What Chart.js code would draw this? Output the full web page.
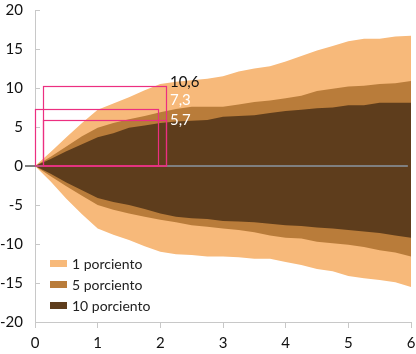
<!DOCTYPE html>
<html>
<head>
<meta charset="utf-8">
<script src="https://cdn.jsdelivr.net/npm/chart.js@4.4.0/dist/chart.umd.min.js"></script>
<style>
  html, body { margin: 0; padding: 0; background: #fff; }
  #wrap { position: relative; width: 416px; height: 354px; }
  #legend { position: absolute; left: 50px; top: 253px; font-family: Lato, sans-serif; font-size: 14px; color: #222; }
  .item { display: flex; align-items: center; height: 21px; }
  .box { width: 17px; height: 7px; margin-right: 5px; }
</style>
</head>
<body>
<div id="wrap">
  <canvas id="chart" width="416" height="354"></canvas>
  <div id="legend"></div>
</div>
<script>
  const years = [0, 0.25, 0.5, 0.75, 1, 1.25, 1.5, 1.75, 2, 2.25, 2.5, 2.75, 3,
                 3.25, 3.5, 3.75, 4, 4.25, 4.5, 4.75, 5, 5.25, 5.5, 5.75, 6];

  const upper1 = [0, 1.8, 3.7, 5.5, 7.2, 8.0, 8.8, 9.7, 10.5, 10.8, 11.0, 11.2, 11.5,
                  12.1, 12.5, 12.8, 13.4, 14.1, 14.8, 15.4, 16.0, 16.3, 16.3, 16.6, 16.7];
  const lower1 = [0, -2.0, -4.2, -6.2, -8.0, -8.8, -9.5, -10.3, -11.0, -11.3, -11.4, -11.6, -11.6,
                  -11.7, -11.9, -11.9, -12.3, -12.7, -13.2, -13.5, -14.1, -14.4, -14.6, -14.9, -15.5];
  const upper5 = [0, 1.2, 2.5, 3.8, 4.9, 5.5, 6.0, 6.4, 6.9, 7.3, 7.6, 7.6, 7.6,
                  7.9, 8.2, 8.4, 8.7, 9.0, 9.6, 9.9, 10.2, 10.3, 10.5, 10.6, 10.9];
  const lower5 = [0, -1.3, -2.6, -3.8, -5.0, -5.6, -6.1, -6.5, -6.9, -7.2, -7.6, -7.8, -8.0,
                  -8.2, -8.5, -8.9, -9.2, -9.3, -9.7, -9.9, -10.1, -10.4, -10.8, -11.1, -11.6];
  const upper10 = [0, 0.9, 1.9, 2.8, 3.7, 4.2, 4.9, 5.2, 5.5, 5.7, 5.8, 5.9, 6.3,
                   6.4, 6.5, 6.8, 7.05, 7.2, 7.4, 7.5, 7.8, 7.8, 8.1, 8.1, 8.1];
  const lower10 = [0, -1.0, -2.1, -3.1, -4.1, -4.6, -5.0, -5.5, -6.1, -6.5, -6.7, -6.8, -7.05,
                   -7.1, -7.2, -7.4, -7.6, -7.7, -7.9, -8.0, -8.2, -8.4, -8.6, -8.9, -9.2];

  const bandNames = ['1 porciento', '5 porciento', '10 porciento'];
  const bandColors = ['#f7b97a', '#b97c3a', '#5e3d1c'];

  // pink marker boxes: x range and top value, plus the text beside them
  const boxX0 = [0.12, 0, 0.12];
  const boxX1 = [2.09, 1.97, 2.09];
  const boxTop = [10.3, 7.3, 5.9];
  const boxText = ['10,6', '7,3', '5,7'];
  const boxTextY = [10.8, 8.5, 5.9];
  const boxTextColor = ['#111', '#fff', '#fff'];

  const yTicks = [20, 15, 10, 5, 0, -5, -10, -15, -20];

  const pts = (arr) => arr.map((v, i) => ({ x: years[i], y: v }));
  const band = (up, lo, color) => [
    { data: pts(up), fill: '+1', backgroundColor: color, borderWidth: 0, pointRadius: 0 },
    { data: pts(lo), fill: false, borderWidth: 0, pointRadius: 0 }
  ];

  const extras = {
    id: 'extras',
    afterDatasetsDraw(chart) {
      const { ctx, scales: { x, y }, chartArea } = chart;
      ctx.save();
      // inner ticks on the y axis
      ctx.strokeStyle = '#c8c8c8';
      ctx.lineWidth = 1;
      yTicks.forEach(v => {
        const py = Math.round(y.getPixelForValue(v)) + 0.5;
        ctx.beginPath();
        ctx.moveTo(chartArea.left, py);
        ctx.lineTo(chartArea.left + 5, py);
        ctx.stroke();
      });
      // zero line
      const zy = y.getPixelForValue(0);
      ctx.strokeStyle = '#7f7f7f';
      ctx.lineWidth = 2;
      ctx.beginPath();
      ctx.moveTo(chartArea.left - 10, zy);
      ctx.lineTo(x.getPixelForValue(5.95), zy);
      ctx.stroke();
      // pink boxes
      ctx.strokeStyle = '#ec2f80';
      ctx.lineWidth = 1.2;
      boxTop.forEach((t, i) => {
        const l = Math.round(x.getPixelForValue(boxX0[i])) + 0.5;
        const r = Math.round(x.getPixelForValue(boxX1[i])) + 0.5;
        const tp = Math.round(y.getPixelForValue(t)) + 0.5;
        ctx.strokeRect(l, tp, r - l, zy - tp);
      });
      // labels
      ctx.font = '15px Lato, sans-serif';
      ctx.textBaseline = 'middle';
      ctx.textAlign = 'left';
      boxText.forEach((s, i) => {
        ctx.fillStyle = boxTextColor[i];
        ctx.fillText(s, x.getPixelForValue(boxX1[0]) + 4, y.getPixelForValue(boxTextY[i]));
      });
      ctx.restore();
    }
  };

  new Chart(document.getElementById('chart'), {
    type: 'line',
    data: {
      datasets: [
        ...band(upper10, lower10, bandColors[2]),
        ...band(upper5, lower5, bandColors[1]),
        ...band(upper1, lower1, bandColors[0])
      ]
    },
    options: {
      responsive: false,
      animation: false,
      events: [],
      layout: { padding: { top: 10, right: 5, left: 0, bottom: 0 } },
      plugins: { legend: { display: false }, tooltip: { enabled: false } },
      elements: { line: { tension: 0 } },
      scales: {
        x: {
          type: 'linear', min: 0, max: 6,
          border: { color: '#c8c8c8' },
          grid: { drawOnChartArea: false, drawTicks: true, tickLength: 6, color: '#c8c8c8' },
          ticks: { stepSize: 1, padding: 6, color: '#111', font: { family: 'Lato', size: 15 } },
          afterFit(s) { s.height = 32; s.paddingLeft = 0; s.paddingRight = 0; }
        },
        y: {
          min: -20, max: 20,
          border: { color: '#c8c8c8' },
          grid: { drawOnChartArea: false, drawTicks: false },
          ticks: { stepSize: 5, padding: 12, color: '#111', font: { family: 'Lato', size: 15 } },
          afterFit(s) { s.width = 35; s.paddingTop = 0; s.paddingBottom = 0; }
        }
      }
    },
    plugins: [extras]
  });

  const legend = document.getElementById('legend');
  bandNames.forEach((name, i) => {
    const item = document.createElement('div');
    item.className = 'item';
    const box = document.createElement('span');
    box.className = 'box';
    box.style.background = bandColors[i];
    const label = document.createElement('span');
    label.textContent = name;
    item.appendChild(box);
    item.appendChild(label);
    legend.appendChild(item);
  });
</script>
</body>
</html>
